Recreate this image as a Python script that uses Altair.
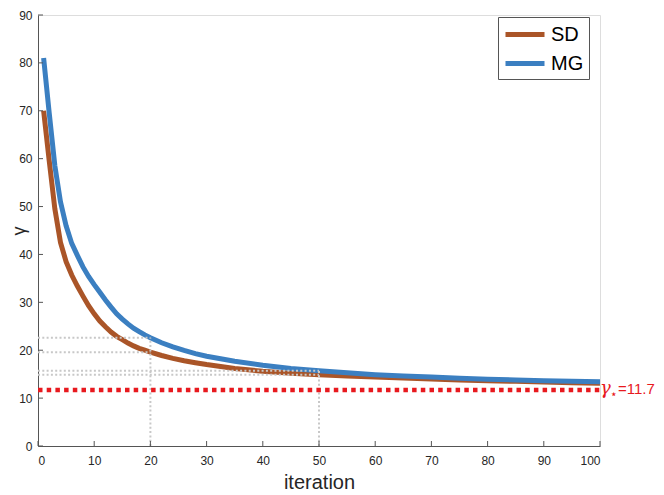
import altair as alt
import pandas as pd

# ---- data ----
iteration = [1, 2, 3, 4, 5, 6, 7, 8, 9, 10, 11, 12, 13, 14, 15, 16, 17, 18, 19, 20,
             22, 24, 26, 28, 30, 35, 40, 45, 50, 55, 60, 65, 70, 75, 80, 85, 90, 95, 100]
sd = [70, 59.5, 49.5, 42.5, 38.5, 35.7, 33.4, 31.3, 29.3, 27.6, 26.1, 24.9, 23.8, 22.9, 22.2,
      21.5, 20.9, 20.4, 20.0, 19.6, 18.9, 18.3, 17.8, 17.4, 17.0, 16.2, 15.6, 15.2, 14.9,
      14.6, 14.4, 14.2, 14.0, 13.8, 13.65, 13.5, 13.35, 13.2, 13.1]
mg = [81, 69.5, 58.5, 51, 46, 42.3, 39.8, 37.4, 35.4, 33.7, 32.1, 30.5, 29.0, 27.6, 26.5,
      25.5, 24.6, 23.9, 23.2, 22.6, 21.55, 20.7, 19.95, 19.3, 18.75, 17.7, 16.85, 16.2, 15.7,
      15.3, 14.9, 14.6, 14.4, 14.15, 13.95, 13.8, 13.65, 13.5, 13.4]
methods = ["SD", "MG"]
colors = ["#AA5528", "#3B7FC1"]
gamma_star = 11.7
marked_iters = [20, 50]
x_ticks = list(range(0, 101, 10))
y_ticks = list(range(0, 91, 10))

W, H = 562, 431
n = len(iteration)

curves = pd.DataFrame({
    "iteration": iteration * 2,
    "gamma": sd + mg,
    "method": ["SD"] * n + ["MG"] * n,
})

rows = []
for k in marked_iters:
    i = iteration.index(k)
    for v in (mg[i], sd[i]):
        rows.append({"x0": 0, "x1": k, "y0": v, "y1": v})
    rows.append({"x0": k, "x1": k, "y0": 0, "y1": mg[i]})
guides = pd.DataFrame(rows)

star = pd.DataFrame({"x0": [0], "x1": [iteration[-1]], "y": [gamma_star]})
xt = pd.DataFrame({"v": x_ticks})
yt = pd.DataFrame({"v": y_ticks})

xscale = alt.Scale(domain=[0, 100], nice=False, zero=False)
yscale = alt.Scale(domain=[0, 90], nice=False)
axis_col = "#262626"

x_axis = alt.Axis(values=x_ticks, title="iteration")
y_axis = alt.Axis(values=y_ticks, title="γ")

color = alt.Color("method:N", scale=alt.Scale(domain=methods, range=colors),
                  sort=methods,
                  legend=alt.Legend(title=None, orient="none", legendX=460, legendY=2,
                                    fillColor="white", strokeColor="#555555",
                                    padding=5, rowPadding=6,
                                    symbolType="M-1,0H2.9",
                                    symbolStrokeWidth=5, symbolSize=400,
                                    labelFontSize=20, labelFont="Liberation Sans",
                                    labelColor="black", labelOffset=23,
                                    cornerRadius=0))

base = alt.Chart(curves)
sd_line = base.transform_filter(alt.datum.method == "SD").mark_line(strokeWidth=5).encode(
    x=alt.X("iteration:Q", scale=xscale, axis=x_axis),
    y=alt.Y("gamma:Q", scale=yscale, axis=y_axis),
    color=color,
)
mg_line = base.transform_filter(alt.datum.method == "MG").mark_line(strokeWidth=5).encode(
    x=alt.X("iteration:Q", scale=xscale, axis=x_axis),
    y=alt.Y("gamma:Q", scale=yscale, axis=y_axis),
    color=color,
)

guide_rules = alt.Chart(guides).mark_rule(color="#C8C8C8", strokeWidth=2,
                                          strokeDash=[2, 2.3]).encode(
    x=alt.X("x0:Q", scale=xscale, axis=x_axis), x2="x1:Q",
    y=alt.Y("y0:Q", scale=yscale, axis=y_axis), y2="y1:Q",
)

star_rule = alt.Chart(star).mark_rule(color="#E8191E", strokeWidth=4.5,
                                      strokeDash=[4.5, 4.2]).encode(
    x=alt.X("x0:Q", scale=xscale, axis=x_axis), x2="x1:Q",
    y=alt.Y("y:Q", scale=yscale, axis=y_axis),
)

gamma_txt = alt.Chart(star).mark_text(text="γ", color="#E8191E", fontSize=18,
                                      font="DejaVu Serif", fontStyle="italic",
                                      align="left", baseline="middle", dx=0, dy=-1).encode(
    x=alt.X("x1:Q", scale=xscale, axis=x_axis), y=alt.Y("y:Q", scale=yscale, axis=y_axis))
star_txt = alt.Chart(star).mark_text(text="⋆", color="#E8191E", fontSize=12,
                                     font="DejaVu Sans", align="left",
                                     baseline="middle", dx=10, dy=4).encode(
    x=alt.X("x1:Q", scale=xscale, axis=x_axis), y=alt.Y("y:Q", scale=yscale, axis=y_axis))
val_txt = alt.Chart(star).mark_text(text="=11.7", color="#E8191E", fontSize=15,
                                    font="Liberation Sans", align="left",
                                    baseline="middle", dx=18, dy=-1).encode(
    x=alt.X("x1:Q", scale=xscale, axis=x_axis), y=alt.Y("y:Q", scale=yscale, axis=y_axis))

ytick_rules = alt.Chart(yt).mark_rule(color="#555555", strokeWidth=1).encode(
    y=alt.Y("v:Q", scale=yscale, axis=y_axis), x=alt.value(0), x2=alt.value(5))
xtick_rules = alt.Chart(xt).mark_rule(color="#555555", strokeWidth=1).encode(
    x=alt.X("v:Q", scale=xscale, axis=x_axis), y=alt.value(H), y2=alt.value(H - 5))

chart = alt.layer(
    sd_line, mg_line, guide_rules, star_rule, gamma_txt, star_txt, val_txt,
    ytick_rules, xtick_rules,
).properties(
    width=W, height=H,
    autosize=alt.AutoSizeParams(type="none"),
    padding={"left": 30, "top": 7, "right": 56, "bottom": 47},
).configure_view(stroke=None).configure(background="white").configure_axis(
    grid=False, ticks=False, labelFontSize=12, labelColor=axis_col,
    domainColor="#555555", labelFont="Liberation Sans", titleFont="Liberation Sans",
    titleFontWeight="normal", titleColor=axis_col,
).configure_axisX(
    labelPadding=9, titleFontSize=20, titlePadding=6,
).configure_axisY(
    labelPadding=6, titleFontSize=18, titleX=-19, titleY=H / 2, titleAngle=270,
    titleAlign="center", titleBaseline="middle",
)

chart.save("out.html", embed_options={"renderer": "svg", "actions": False})
